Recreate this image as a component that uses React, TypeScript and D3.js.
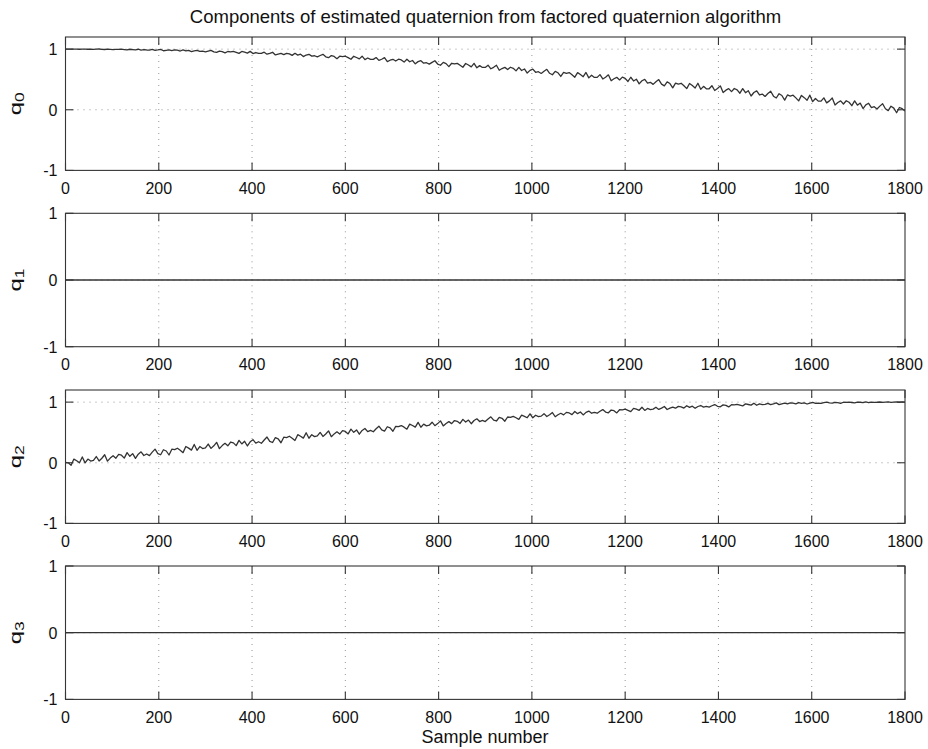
import React from 'react';
import * as d3 from 'd3';

// ---------- data ----------
const titleText = 'Components of estimated quaternion from factored quaternion algorithm';
const xAxisLabel = 'Sample number';
const sampleTicks = [0, 200, 400, 600, 800, 1000, 1200, 1400, 1600, 1800];
const valueTicks = [-1, 0, 1];
const componentIndex = ['0', '1', '2', '3'];

// noisy series are sampled every 6 samples (0..1800)
const noisySamples = d3.range(0, 1801, 6);

const q0Values = [
  1.001, 0.999, 1.001, 0.999, 1.000, 0.998, 0.999, 1.000, 0.998, 0.999,
  0.996, 0.999, 1.002, 0.996, 0.994, 0.999, 0.997, 0.991, 0.997, 0.996,
  0.999, 0.993, 0.987, 0.998, 0.993, 0.988, 0.998, 0.985, 0.992, 0.986,
  0.985, 0.995, 0.980, 0.986, 0.995, 0.973, 0.981, 0.986, 0.976, 0.986,
  0.983, 0.969, 0.988, 0.971, 0.979, 0.959, 0.972, 0.979, 0.962, 0.966,
  0.955, 0.968, 0.979, 0.956, 0.947, 0.968, 0.959, 0.938, 0.961, 0.956,
  0.962, 0.947, 0.930, 0.961, 0.949, 0.934, 0.963, 0.926, 0.944, 0.929,
  0.929, 0.949, 0.917, 0.930, 0.948, 0.904, 0.919, 0.930, 0.910, 0.931,
  0.922, 0.897, 0.931, 0.901, 0.916, 0.877, 0.903, 0.915, 0.884, 0.891,
  0.872, 0.895, 0.914, 0.874, 0.859, 0.894, 0.879, 0.843, 0.883, 0.875,
  0.883, 0.860, 0.833, 0.882, 0.862, 0.839, 0.884, 0.827, 0.854, 0.831,
  0.831, 0.861, 0.815, 0.833, 0.859, 0.795, 0.817, 0.832, 0.804, 0.834,
  0.821, 0.786, 0.834, 0.792, 0.812, 0.758, 0.794, 0.810, 0.768, 0.776,
  0.752, 0.782, 0.808, 0.754, 0.734, 0.781, 0.761, 0.711, 0.767, 0.755,
  0.765, 0.735, 0.701, 0.763, 0.738, 0.708, 0.766, 0.692, 0.728, 0.698,
  0.698, 0.736, 0.676, 0.700, 0.734, 0.651, 0.680, 0.699, 0.663, 0.701,
  0.684, 0.641, 0.700, 0.647, 0.673, 0.605, 0.650, 0.671, 0.618, 0.628,
  0.599, 0.635, 0.667, 0.602, 0.577, 0.634, 0.610, 0.549, 0.617, 0.602,
  0.614, 0.578, 0.537, 0.612, 0.581, 0.545, 0.615, 0.526, 0.569, 0.533,
  0.534, 0.579, 0.508, 0.537, 0.576, 0.478, 0.512, 0.535, 0.492, 0.538,
  0.517, 0.467, 0.536, 0.475, 0.504, 0.426, 0.478, 0.502, 0.440, 0.453,
  0.419, 0.461, 0.498, 0.422, 0.394, 0.460, 0.432, 0.362, 0.440, 0.423,
  0.437, 0.396, 0.349, 0.434, 0.399, 0.359, 0.438, 0.337, 0.386, 0.345,
  0.346, 0.397, 0.318, 0.350, 0.394, 0.284, 0.323, 0.349, 0.300, 0.351,
  0.328, 0.273, 0.349, 0.281, 0.314, 0.227, 0.285, 0.312, 0.244, 0.258,
  0.220, 0.267, 0.306, 0.224, 0.194, 0.265, 0.235, 0.159, 0.244, 0.226,
  0.240, 0.196, 0.146, 0.237, 0.200, 0.157, 0.241, 0.134, 0.186, 0.142,
  0.143, 0.197, 0.114, 0.147, 0.194, 0.079, 0.119, 0.146, 0.095, 0.149,
  0.124, 0.067, 0.146, 0.076, 0.110, 0.020, 0.080, 0.107, 0.037, 0.051,
  0.013, 0.060, 0.100, 0.017, -0.014, 0.059, 0.027, -0.049, 0.037, 0.018,
  -0.020,
];

const q2Values = [
  0.005, -0.001, -0.042, 0.061, 0.034, 0.000, 0.096, -0.002, 0.061, 0.028,
  0.039, 0.103, 0.030, 0.075, 0.132, 0.026, 0.077, 0.115, 0.075, 0.138,
  0.124, 0.077, 0.167, 0.107, 0.151, 0.072, 0.142, 0.180, 0.120, 0.145,
  0.117, 0.175, 0.225, 0.152, 0.132, 0.215, 0.194, 0.128, 0.224, 0.216,
  0.240, 0.207, 0.167, 0.268, 0.241, 0.208, 0.302, 0.205, 0.268, 0.235,
  0.246, 0.309, 0.237, 0.280, 0.337, 0.233, 0.283, 0.320, 0.280, 0.342,
  0.328, 0.282, 0.369, 0.311, 0.354, 0.277, 0.345, 0.381, 0.323, 0.347,
  0.321, 0.376, 0.424, 0.354, 0.334, 0.414, 0.394, 0.330, 0.422, 0.414,
  0.437, 0.405, 0.368, 0.463, 0.438, 0.406, 0.495, 0.404, 0.463, 0.431,
  0.442, 0.500, 0.434, 0.474, 0.526, 0.430, 0.476, 0.510, 0.473, 0.531,
  0.517, 0.476, 0.555, 0.502, 0.541, 0.471, 0.533, 0.565, 0.513, 0.534,
  0.512, 0.560, 0.603, 0.541, 0.523, 0.594, 0.576, 0.520, 0.601, 0.595,
  0.614, 0.587, 0.554, 0.637, 0.615, 0.587, 0.666, 0.585, 0.637, 0.609,
  0.619, 0.669, 0.612, 0.646, 0.691, 0.608, 0.648, 0.678, 0.646, 0.696,
  0.684, 0.648, 0.716, 0.671, 0.704, 0.644, 0.697, 0.725, 0.680, 0.698,
  0.679, 0.720, 0.757, 0.704, 0.689, 0.749, 0.733, 0.685, 0.755, 0.749,
  0.765, 0.742, 0.715, 0.784, 0.766, 0.743, 0.808, 0.741, 0.784, 0.761,
  0.769, 0.810, 0.763, 0.791, 0.828, 0.759, 0.792, 0.816, 0.790, 0.831,
  0.821, 0.793, 0.846, 0.810, 0.837, 0.789, 0.831, 0.853, 0.817, 0.832,
  0.817, 0.849, 0.877, 0.836, 0.824, 0.870, 0.859, 0.822, 0.875, 0.871,
  0.883, 0.865, 0.844, 0.897, 0.883, 0.865, 0.915, 0.863, 0.896, 0.878,
  0.885, 0.915, 0.880, 0.901, 0.928, 0.878, 0.901, 0.919, 0.900, 0.930,
  0.922, 0.902, 0.940, 0.914, 0.933, 0.898, 0.928, 0.944, 0.918, 0.929,
  0.919, 0.940, 0.960, 0.931, 0.923, 0.955, 0.947, 0.921, 0.958, 0.954,
  0.962, 0.950, 0.937, 0.971, 0.961, 0.950, 0.982, 0.948, 0.970, 0.958,
  0.962, 0.980, 0.959, 0.971, 0.987, 0.958, 0.971, 0.982, 0.970, 0.988,
  0.983, 0.972, 0.992, 0.978, 0.988, 0.969, 0.985, 0.994, 0.980, 0.985,
  0.981, 0.991, 1.000, 0.986, 0.982, 0.997, 0.993, 0.981, 0.998, 0.996,
  0.999, 0.994, 0.989, 1.001, 0.998, 0.993, 1.005, 0.993, 1.000, 0.996,
  0.998, 1.002, 0.996, 1.000, 1.004, 0.995, 0.999, 1.002, 0.998, 1.003,
  1.000,
];

// flat components
const flatSamples = [0, 1800];
const q1Values = [0, 0];
const q3Values = [0, 0];

const yUpperLimits = [1.2, 1, 1.2, 1];

// ---------- layout ----------
const W = 928;
const H = 749;
const left = 65.5;
const right = 905;
const panelTops = [37, 213.3, 390, 566];
const panelH = 133.4;
const tickLen = 8;
const FONT = '"Liberation Sans", Arial, Helvetica, sans-serif';
const axisColor = '#363636';
const lineColor = '#333333';
const gridColor = '#8a8a8a';

type Series = { x: number[]; y: number[] };
const seriesList: Series[] = [
  { x: noisySamples, y: q0Values },
  { x: flatSamples, y: q1Values },
  { x: noisySamples, y: q2Values },
  { x: flatSamples, y: q3Values },
];

const xScale = d3.scaleLinear().domain([0, 1800]).range([left, right]);

function Panel({ idx }: { idx: number }) {
  const top = panelTops[idx];
  const bottom = top + panelH;
  const y = d3.scaleLinear().domain([-1, yUpperLimits[idx]]).range([bottom, top]);
  const s = seriesList[idx];
  const pts: [number, number][] = s.x.map((xv, i) => [xv, s.y[i]]);
  const line = d3
    .line<[number, number]>()
    .x((d) => xScale(d[0]))
    .y((d) => y(d[1]));
  const clipId = `clip-${idx}`;
  const midY = (top + bottom) / 2;
  return (
    <g>
      <defs>
        <clipPath id={clipId}>
          <rect x={left} y={top} width={right - left} height={panelH} />
        </clipPath>
      </defs>
      <rect x={left} y={top} width={right - left} height={panelH} fill="#fff" />
      {/* grid */}
      <g stroke={gridColor} strokeWidth={0.9} strokeDasharray="1,5" fill="none">
        {sampleTicks.slice(1, -1).map((t) => (
          <line key={'gx' + t} x1={xScale(t)} x2={xScale(t)} y1={top} y2={bottom} />
        ))}
        {valueTicks
          .filter((t) => Math.abs(y(t) - top) > 1 && Math.abs(y(t) - bottom) > 1)
          .map((t) => (
            <line key={'gy' + t} x1={left} x2={right} y1={y(t)} y2={y(t)} />
          ))}
      </g>
      {/* data */}
      <path
        d={line(pts) || ''}
        fill="none"
        stroke={lineColor}
        strokeWidth={1.3}
        strokeLinejoin="round"
        clipPath={`url(#${clipId})`}
      />
      {/* box */}
      <rect x={left} y={top} width={right - left} height={panelH} fill="none" stroke={axisColor} strokeWidth={1.1} />
      {/* ticks */}
      <g stroke={axisColor} strokeWidth={1.1}>
        {sampleTicks.map((t) => (
          <g key={'tx' + t}>
            <line x1={xScale(t)} x2={xScale(t)} y1={bottom} y2={bottom - tickLen} />
            <line x1={xScale(t)} x2={xScale(t)} y1={top} y2={top + tickLen} />
          </g>
        ))}
        {valueTicks.map((t) => (
          <g key={'ty' + t}>
            <line x1={left} x2={left + tickLen} y1={y(t)} y2={y(t)} />
            <line x1={right} x2={right - tickLen} y1={y(t)} y2={y(t)} />
          </g>
        ))}
      </g>
      {/* tick labels */}
      <g fontFamily={FONT} fontSize={16} fill="#111">
        {sampleTicks.map((t) => (
          <text key={'lx' + t} x={xScale(t)} y={bottom + 23.5} textAnchor="middle">
            {t}
          </text>
        ))}
        {valueTicks.map((t) => (
          <text key={'ly' + t} x={left - 8} y={y(t) + 5.8} textAnchor="end">
            {t}
          </text>
        ))}
      </g>
      {/* y label */}
      <text
        transform={`translate(${21},${midY}) rotate(-90) scale(1.4,1)`}
        textAnchor="middle"
        fontFamily={FONT}
        fontSize={17}
        fill="#111"
      >
        q<tspan fontSize={12.5} dy={3}>{componentIndex[idx]}</tspan>
      </text>
    </g>
  );
}

export default function App() {
  return (
    <svg
      width={W}
      height={H}
      viewBox={`0 0 ${W} ${H}`}
      style={{ position: 'absolute', left: 0, top: 0, background: '#fff' }}
    >
      <rect x={0} y={0} width={W} height={H} fill="#fff" />
      <text x={485.5} y={23.3} textAnchor="middle" fontFamily={FONT} fontSize={18.5} fill="#111">
        {titleText}
      </text>
      {panelTops.map((_, i) => (
        <Panel key={i} idx={i} />
      ))}
      <text x={485} y={742.5} textAnchor="middle" fontFamily={FONT} fontSize={18} fill="#111">
        {xAxisLabel}
      </text>
    </svg>
  );
}
